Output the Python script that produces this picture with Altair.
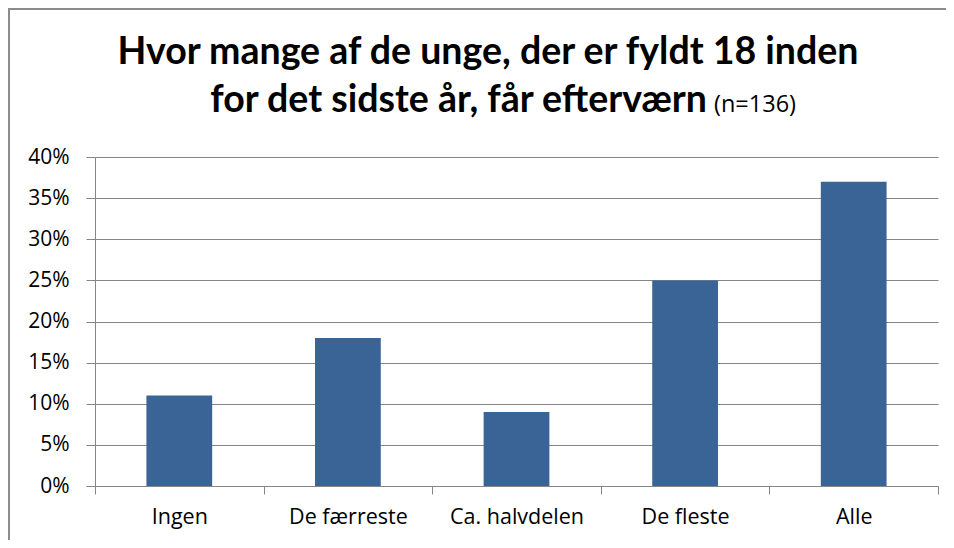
import altair as alt
import pandas as pd

categories = ["Ingen", "De færreste", "Ca. halvdelen", "De fleste", "Alle"]
values = [0.11, 0.18, 0.09, 0.25, 0.37]
y_ticks = [0, 0.05, 0.10, 0.15, 0.20, 0.25, 0.30, 0.35, 0.40]
title_line1 = "Hvor mange af de unge, der er fyldt 18 inden"
title_line2 = "for det sidste år, får efterværn"
title_n = "(n=136)"

df = pd.DataFrame({"cat": categories, "val": values})
TFONT = "Lato"
LFONT = "Open Sans"
W, H = 843, 329
PAD = {"left": 87, "top": 149, "right": 8, "bottom": 54}
GREY = "#868686"

bars = alt.Chart(df).mark_bar(color="#3A6496", width=alt.RelativeBandSize(0.39)).encode(
    x=alt.X("cat:N", sort=categories,
            scale=alt.Scale(paddingInner=0, paddingOuter=0),
            axis=alt.Axis(title=None, labelAngle=0, tickBand="extent", domainColor=GREY,
                          tickColor=GREY, tickSize=8, labelFontSize=21.5, labelFont=LFONT,
                          labelColor="black", labelPadding=12, grid=False)),
    y=alt.Y("val:Q", scale=alt.Scale(domain=[0, 0.4], nice=False),
            axis=alt.Axis(title=None, values=y_ticks, format=".0%", grid=True, gridColor=GREY,
                          domainColor=GREY, tickColor=GREY, tickSize=9, labelFontSize=21,
                          labelPadding=17, labelFont=LFONT, labelColor="black")),
)

one = pd.DataFrame({"k": [0]})

border = alt.Chart(one).mark_rect(fill=None, stroke="#8c8c8c", strokeWidth=2).encode(
    x=alt.value(-PAD["left"] + 1), x2=alt.value(W + PAD["right"] + 20),
    y=alt.value(-PAD["top"] + 1), y2=alt.value(H + PAD["bottom"] + 20),
)

t1 = alt.Chart(one).mark_text(font=TFONT, fontSize=37.5, fontWeight="bold", align="center",
                              baseline="alphabetic", color="black").encode(
    x=alt.value(393), y=alt.value(-93), text=alt.value(title_line1))
t2 = alt.Chart(one).mark_text(font=TFONT, fontSize=37.5, fontWeight="bold", align="right",
                              baseline="alphabetic", color="black").encode(
    x=alt.value(612), y=alt.value(-45), text=alt.value(title_line2))
t3 = alt.Chart(one).mark_text(font=LFONT, fontSize=23.5, fontWeight="normal", align="left",
                              baseline="alphabetic", color="black").encode(
    x=alt.value(619), y=alt.value(-45), text=alt.value(title_n))

chart = alt.layer(bars, border, t1, t2, t3).properties(
    width=W, height=H, padding=PAD, autosize=alt.AutoSizeParams(type="none"),
    background="white",
).configure_view(stroke=None)

chart.save("out.html", embed_options={"renderer": "svg", "actions": False})
